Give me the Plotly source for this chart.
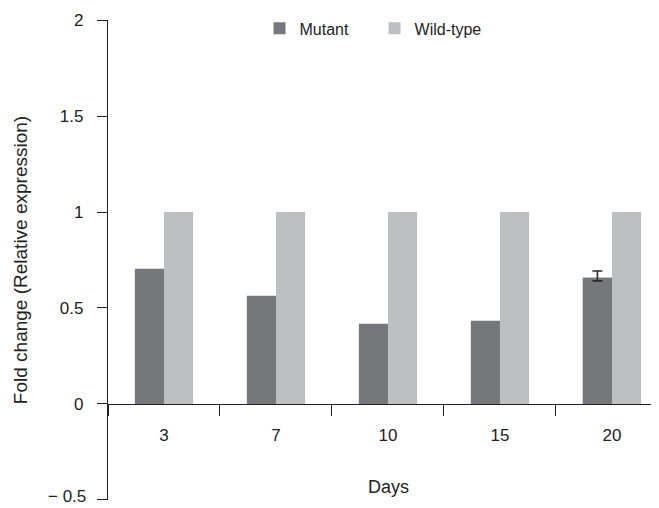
import plotly.graph_objects as go

days = ["3", "7", "10", "15", "20"]
mutant = [0.705, 0.564, 0.418, 0.434, 0.658]
wild_type = [1.0, 1.0, 1.0, 1.0, 1.0]
err_day = ["20"]
err_value = [0.658]
err_plus = [0.035]
err_minus = [0.017]
y_ticks = [-0.5, 0, 0.5, 1, 1.5, 2]
y_ticktext = ["", "0", "0.5", "1", "1.5", "2"]
y_bottom_label = "\u2212 0.5"

FONT = "Liberation Sans, Arial, sans-serif"
DARK = "#76777b"
LIGHT = "#bebfc3"

fig = go.Figure()
fig.add_trace(go.Bar(
    x=days, y=mutant, name="Mutant", offsetgroup="m",
    marker=dict(color=DARK, line=dict(width=0)),
))
fig.add_trace(go.Bar(
    x=days, y=wild_type, name="Wild-type", offsetgroup="w",
    marker=dict(color=LIGHT, line=dict(width=0)),
))
# error bar for the day-20 mutant bar only (same bar, drawn on top)
fig.add_trace(go.Bar(
    x=err_day, y=err_value, name="Mutant", offsetgroup="m", showlegend=False,
    marker=dict(color=DARK, line=dict(width=0)),
    error_y=dict(type="data", symmetric=False, array=err_plus,
                 arrayminus=err_minus, color="#2a2a2a",
                 thickness=1.6, width=5),
))

# page body has an 8px margin: figure is drawn offset by (8, 8)
fig.update_layout(
    width=651, height=508,
    margin=dict(l=100, r=0, t=12, b=16, autoexpand=False),
    paper_bgcolor="white", plot_bgcolor="white",
    barmode="group", bargap=0.48, bargroupgap=0,
    font=dict(family=FONT, color="#222222", size=16),
    showlegend=True,
    legend=dict(orientation="h", xref="paper", yref="paper",
                x=0.275, y=1.018, xanchor="left", yanchor="top",
                font=dict(size=16, family=FONT, color="#222222"),
                entrywidth=70, entrywidthmode="pixels",
                bgcolor="rgba(0,0,0,0)"),
    xaxis=dict(
        type="category", range=[-0.5, 4.42],
        anchor="free", position=0.2, automargin=False,
        showline=True, linecolor="#222222", linewidth=1.3,
        ticks="outside", tickson="boundaries", ticklen=11,
        tickcolor="#222222", tickwidth=1.3,
        ticklabelstandoff=15,
        tickfont=dict(size=17, family=FONT, color="#222222"),
        showgrid=False, zeroline=False,
    ),
    yaxis=dict(
        range=[-0.5005, 2.0005], tickmode="array", tickvals=y_ticks, ticktext=y_ticktext,
        automargin=False, ticklabeloverflow="allow",
        showline=True, linecolor="#222222", linewidth=1.3,
        ticks="outside", ticklen=10, tickcolor="#222222", tickwidth=1.3,
        ticklabelstandoff=10,
        tickfont=dict(size=17, family=FONT, color="#222222"),
        showgrid=False, zeroline=False,
        title=dict(text="Fold change (Relative expression)",
                   font=dict(size=19, family=FONT, color="#222222"), standoff=27),
    ),
    annotations=[
        dict(text="Days", xref="paper", yref="paper", x=0.509, y=0.028,
             xanchor="center", yanchor="middle", showarrow=False,
             font=dict(size=18, family=FONT, color="#222222")),
        dict(text=y_bottom_label, xref="paper", yref="y", x=0, y=y_ticks[0],
             xanchor="right", yanchor="middle", xshift=-21, yshift=3,
             showarrow=False, borderpad=0,
             font=dict(size=17, family=FONT, color="#222222")),
    ],
)

fig.write_html("out.html")
